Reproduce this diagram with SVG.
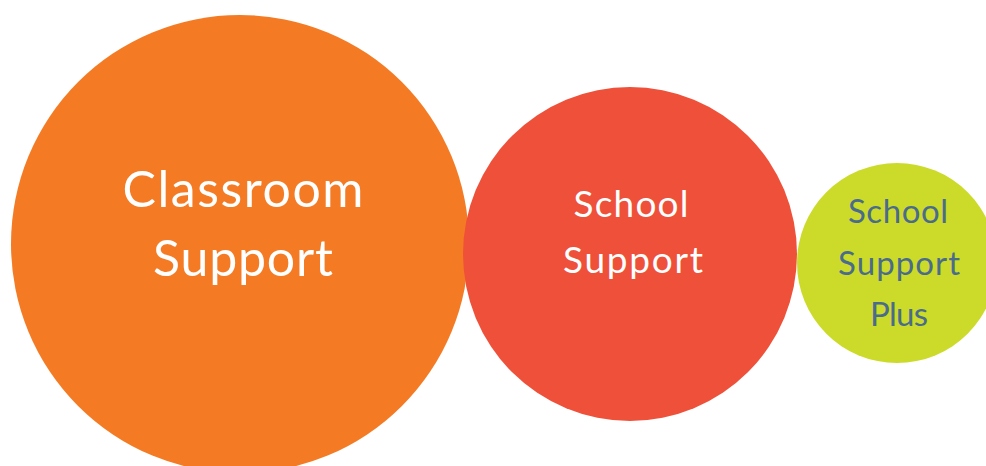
<svg xmlns="http://www.w3.org/2000/svg" width="986" height="466" viewBox="0 0 986 466">
<style>
.t{font-family:"Lato","Open Sans","DejaVu Sans",sans-serif;text-anchor:middle}
.w{fill:#ffffff}
.b{fill:#4a6b8c}
</style>
<rect width="986" height="466" fill="#ffffff"/>
<g id="connectors"></g>
<g id="classroom">
<circle cx="240" cy="244" r="229" fill="#f47b24"/>
<text class="t w" x="243" y="207" font-size="50" textLength="241" lengthAdjust="spacing">Classroom</text>
<text class="t w" x="243" y="276" font-size="50" textLength="180" lengthAdjust="spacing">Support</text>
</g>
<g id="school">
<circle cx="630" cy="254" r="167" fill="#ef5039"/>
<text class="t w" x="631" y="217" font-size="37" textLength="115" lengthAdjust="spacing">School</text>
<text class="t w" x="633" y="273" font-size="37" textLength="140" lengthAdjust="spacing">Support</text>
</g>
<g id="schoolplus">
<circle cx="897" cy="263" r="100" fill="#ccdb29"/>
<text class="t b" x="898" y="223" font-size="33" textLength="100" lengthAdjust="spacing">School</text>
<text class="t b" x="899" y="275" font-size="33" textLength="122" lengthAdjust="spacing">Support</text>
<text class="t b" x="899" y="326" font-size="33" textLength="58" lengthAdjust="spacing">Plus</text>
</g>
</svg>
